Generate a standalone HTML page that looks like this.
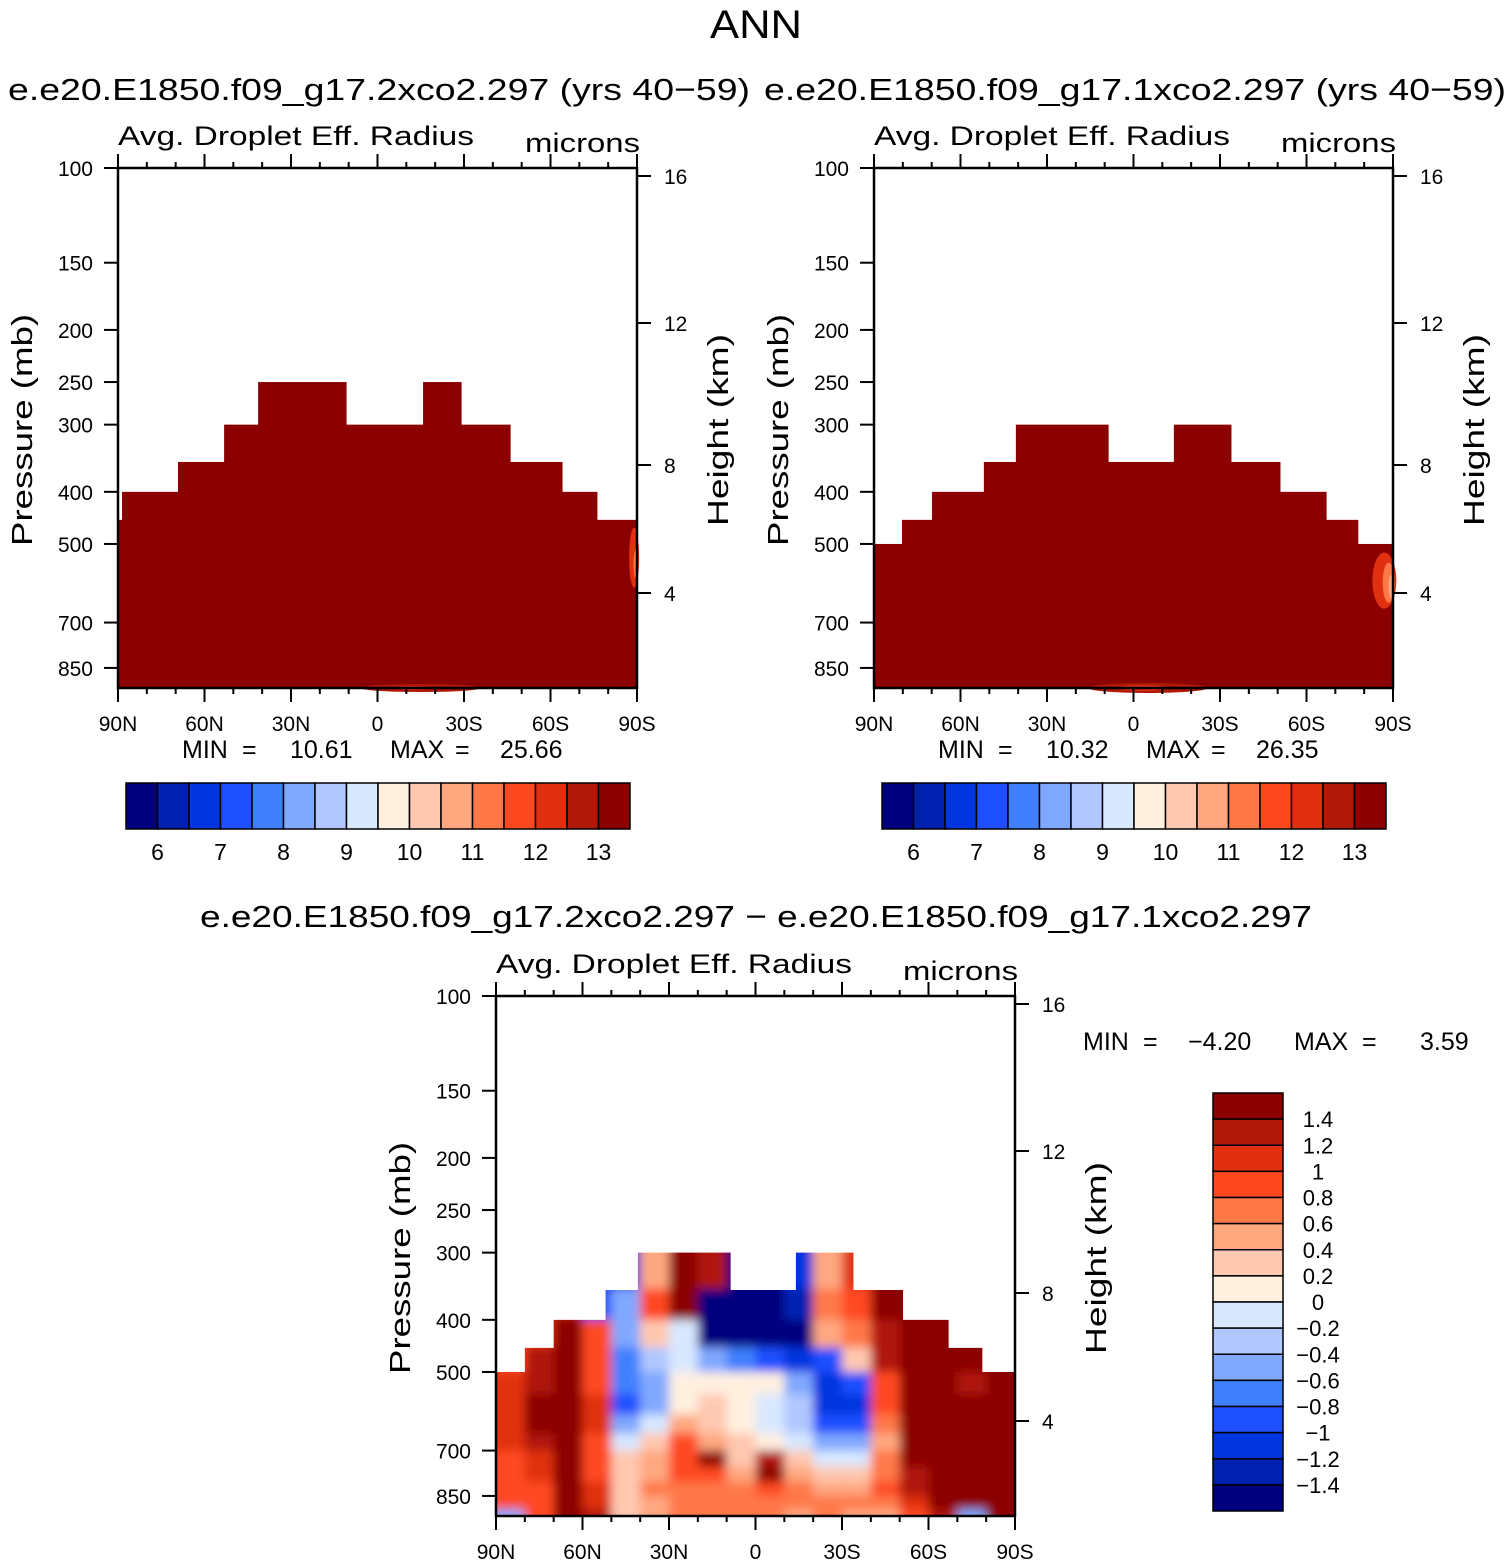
<!DOCTYPE html>
<html><head><meta charset="utf-8">
<style>
html,body{margin:0;padding:0;background:#fff;}
svg{display:block;font-family:"Liberation Sans",sans-serif;}
text{fill:#000;}
</style></head>
<body>
<svg id="fig" width="1510" height="1565" viewBox="0 0 1510 1565">
<text x="756" y="38" font-size="40" text-anchor="middle" textLength="92" lengthAdjust="spacingAndGlyphs">ANN</text>
</svg>
<script>
// ---- data ----
var pressureTicks = [100,150,200,250,300,400,500,700,850];
var heightTicks = [16,12,8,4];
var heightTickY = [176,323,465,593]; // relative to panel 1 layout
var latTicks = [90,60,30,0,-30,-60,-90];
var latTickLabels = ["90N","60N","30N","0","30S","60S","90S"];
var cbarLabels = ["6","7","8","9","10","11","12","13"];
var diffLevels = [1.4,1.2,1,0.8,0.6,0.4,0.2,0,-0.2,-0.4,-0.6,-0.8,-1,-1.2,-1.4];
var diffLabels = ["1.4","1.2","1","0.8","0.6","0.4","0.2","0","\u22120.2","\u22120.4","\u22120.6","\u22120.8","\u22121","\u22121.2","\u22121.4"];
var palette = ["#00007f","#0020b0","#0035e0","#1e50ff","#4080ff","#80a8ff","#b0c8ff","#d8e8ff","#fff0e0","#ffc8b0","#ffa880","#ff7848","#ff4820","#e03010","#b01808","#8b0000"];
// panel 1 profile
var p1LatEdges = [90,88.6,69.2,53.2,41.4,10.9,-15.8,-29,-46,-64,-76.1,-90];
var p1TopP = [451,400,352,300,250,300,250,300,352,400,451];
// panel 2 profile
var p2LatEdges = [90,80.3,69.9,51.9,40.8,8.8,-14,-33.8,-50.8,-66.8,-77.8,-90];
var p2TopP = [500,451,400,352,300,352,300,352,400,451,500];
// panel 3 profile
var p3LatEdges = [90,80,70,52,40.8,8.8,-14,-33.8,-51,-66.8,-78.5,-90];
var p3TopP = [500,451,400,352,300,352,300,352,400,451,500];
// diff grid
var diffLatEdges = [90,80,70,60,50,40,30,20,10,0,-10,-20,-30,-40,-50,-60,-70,-80,-90];
var diffPEdges = [300,350,400,450,500,550,600,650,700,750,800,850,900,930];
var diffValues = [
[1.0,1.0,1.2,-0.9,-1.2,0.4,1.6,1.2,-2,-2,-1.2,0.5,1.0,1.6,1.6,1.6,1.6,1.6],
[1.0,1.0,1.2,-0.9,-0.6,0.8,1.6,-1.6,-2,-2,-1.4,0.6,0.8,1.6,1.6,1.6,-1.0,1.6],
[0.9,1.1,1.4,0.9,-0.6,0.2,-0.2,-1.6,-2,-2,-1.6,0.4,0.6,1.3,1.6,1.6,1.6,1.6],
[0.9,1.2,1.5,0.8,-0.7,-0.3,-0.2,-0.6,-0.8,-1.0,-1.2,-1.0,0.2,1.2,1.6,1.6,1.6,1.6],
[1.0,1.3,1.5,0.9,-0.8,-0.6,0.1,0.1,0.1,0.0,-0.6,-1.2,-1.0,0.9,1.6,1.6,1.2,1.6],
[1.0,1.4,1.5,1.0,-0.9,-0.5,0.1,0.2,0.1,-0.1,-0.4,-1.2,-1.2,0.8,1.6,1.6,1.6,1.6],
[1.1,1.4,1.5,1.0,-0.6,-0.2,0.4,0.2,0.1,-0.1,-0.3,-1.0,-1.0,0.7,1.6,1.6,1.6,1.6],
[1.0,1.2,1.5,0.9,-0.2,0.2,0.8,0.4,0.2,0.0,-0.2,-0.6,-0.6,0.5,1.6,1.6,1.6,1.6],
[0.9,1.0,1.4,0.9,0.2,0.4,0.9,1.6,0.3,1.2,0.2,-0.2,-0.1,0.6,1.4,1.6,1.6,1.6],
[0.9,1.0,1.6,0.9,0.3,0.5,0.8,0.9,0.4,1.4,0.4,0.2,0.3,0.7,1.2,1.6,1.6,1.6],
[0.8,0.9,1.6,1.0,0.3,0.6,0.6,0.6,0.6,0.8,0.6,0.4,0.5,0.8,1.2,1.6,1.6,1.6],
[0.8,0.9,1.6,1.1,0.2,0.5,0.6,0.6,0.7,0.6,0.7,0.6,0.6,0.6,1.0,1.4,1.6,1.6],
[-0.6,0.8,1.6,1.2,0.2,0.4,0.6,0.6,0.6,0.6,0.5,0.6,0.5,0.5,0.9,1.2,-0.6,1.6]
];

// ---- drawing ----
var NS="http://www.w3.org/2000/svg";
var svg=document.getElementById('fig');
function mk(tag,attrs,parent){var e=document.createElementNS(NS,tag);for(var k in attrs)e.setAttribute(k,attrs[k]);(parent||svg).appendChild(e);return e;}
function txt(x,y,s,size,anchor,parent){var t=mk('text',{x:x,y:y,'font-size':size,'text-anchor':anchor||'start'},parent);t.textContent=s;return t;}
function fit(t,len){t.setAttribute('textLength',len);t.setAttribute('lengthAdjust','spacingAndGlyphs');}

var W=519,H=520,K=233.6;
function makeScales(x0,y0){
  return {x:function(lat){return x0+(90-lat)/180*W;},
          y:function(p){return Math.min(y0+H,y0+K*Math.log(p/100));}};
}
function colorFor(v){var i=0;for(var j=0;j<diffLevels.length;j++){if(v>diffLevels[j]-1e-9)i++;}return palette[i];}

function drawAxes(g,x0,y0,sc,name){
  var box=mk('rect',{x:x0,y:y0,width:W,height:H,fill:'none',stroke:'#000','stroke-width':2.5},g);
  
  
  for(var lat=90;lat>=-90;lat-=10){
    var x=sc.x(lat);var major=(lat%30===0);var L=major?14:6;
    mk('line',{x1:x,y1:y0,x2:x,y2:y0-L,stroke:'#000','stroke-width':2},g);
    mk('line',{x1:x,y1:y0+H,x2:x,y2:y0+H+L,stroke:'#000','stroke-width':2},g);
  }
  for(var i=0;i<latTicks.length;i++){
    var t=txt(sc.x(latTicks[i]),y0+H+43,latTickLabels[i],21,'middle',g);
    
    
  }
  for(var i=0;i<pressureTicks.length;i++){
    var y=sc.y(pressureTicks[i]);
    mk('line',{x1:x0,y1:y,x2:x0-14,y2:y,stroke:'#000','stroke-width':2},g);
    var t=txt(x0-25,y+8,String(pressureTicks[i]),21,'end',g);
    
    
  }
  for(var i=0;i<heightTicks.length;i++){
    var y=y0+(heightTickY[i]-168);
    mk('line',{x1:x0+W,y1:y,x2:x0+W+14,y2:y,stroke:'#000','stroke-width':2},g);
    var t=txt(x0+W+27,y+8,String(heightTicks[i]),21,'start',g);
    
    
  }
  var a=txt(x0,y0-23,"Avg. Droplet Eff. Radius",27,'start',g);
  fit(a,356);
  
  
  var m=txt(x0+407,y0-16,"microns",27,'start',g);
  fit(m,115);
  
  
  var yl=txt(0,0,"Pressure (mb)",29,'middle',g);
  yl.setAttribute('transform','translate('+(x0-86)+','+(y0+262)+') rotate(-90)');
  fit(yl,232);
  
  
  var hl=txt(0,0,"Height (km)",29,'middle',g);
  hl.setAttribute('transform','translate('+(x0+W+91)+','+(y0+262)+') rotate(-90)');
  fit(hl,192);
  
  
}

function drawProfileFill(g,sc,edges,tops,color){
  for(var i=0;i<tops.length;i++){
    var xa=sc.x(edges[i]),xb=sc.x(edges[i+1]);var ya=sc.y(tops[i]),yb=sc.y(930);
    var r=mk('rect',{x:xa,y:ya,width:xb-xa+0.5,height:yb-ya,fill:color},g);
    
    
  }
}

function horizCbar(g,x,y,name){
  var w=504/16;
  for(var i=0;i<16;i++){
    var r=mk('rect',{x:x+i*w,y:y,width:w,height:46,fill:palette[i],stroke:'#000','stroke-width':1.5},g);
    
    
  }
  for(var i=0;i<cbarLabels.length;i++){
    var t=txt(x+(2*i+1)*w,y+77,cbarLabels[i],23,'middle',g);
    
    
  }
}

function minmax(g,xs,y,vals){
  var labels=["MIN","=",vals[0],"MAX","=",vals[1]];
  for(var i=0;i<6;i++){
    var t=txt(xs[i],y,labels[i],25,'start',g);
    
    
  }
}

function topPanel(x0,edges,tops,subtitle,sx,mn,mx,blobs,name){
  var g=mk('g',{});
  
  
  var sc=makeScales(x0,168);
  var st=txt(sx,100,subtitle,31,'start',g);
  fit(st,742);
  
  
  drawProfileFill(g,sc,edges,tops,'#8b0000');
  for(var i=0;i<blobs.length;i++){
    var b=blobs[i];
    var e=mk('ellipse',{cx:sc.x(b[0]),cy:sc.y(b[1]),rx:b[2],ry:b[3],fill:b[4]},g);
    
    
  }
  drawAxes(g,x0,168,sc,name);
  minmax(g,[x0+64,x0+124,x0+172,x0+272,x0+337,x0+382],758,[mn,mx]);
  horizCbar(g,x0+8,783,name+'-colorbar');
}
var blobs1=[[-89,530,5,30,'#e03010'],[-89.5,545,2,14,'#ff7848'],[-15,930,60,4,'#b01808'],[-12,930,20,2,'#e03010']];
var blobs2=[[-87,585,12,28,'#e03010'],[-88.5,590,6,20,'#ff7848'],[-89.5,600,3,12,'#ffa880'],[-5,930,60,5,'#b01808'],[-3,930,25,3,'#e03010']];
topPanel(118,p1LatEdges,p1TopP,"e.e20.E1850.f09_g17.2xco2.297 (yrs 40\u221259)",8,"10.61","25.66",blobs1,'panel-2xco2');
topPanel(874,p2LatEdges,p2TopP,"e.e20.E1850.f09_g17.1xco2.297 (yrs 40\u221259)",764,"10.32","26.35",blobs2,'panel-1xco2');

// difference panel
(function(){
  var x0=496,y0=996;
  var g=mk('g',{});
  
  
  var sc=makeScales(x0,y0);
  var st=txt(200,927,"e.e20.E1850.f09_g17.2xco2.297 \u2212 e.e20.E1850.f09_g17.1xco2.297",31,'start',g);
  fit(st,1112);
  
  
  var defs=mk('defs',{},g);
  var cp=mk('clipPath',{id:'diffclip'},defs);
  drawProfileFill(cp,sc,p3LatEdges,p3TopP,'#000');
  var filt=mk('filter',{id:'soft',filterUnits:'userSpaceOnUse',x:460,y:1200,width:600,height:360},defs);
  mk('feGaussianBlur',{stdDeviation:'5'},filt);
  var cg=mk('g',{'clip-path':'url(#diffclip)'},g);
  var fg=mk('g',{filter:'url(#soft)'},cg);
  for(var r=0;r<diffValues.length;r++){
    for(var c=0;c<diffValues[r].length;c++){
      var xa=sc.x(diffLatEdges[c]),xb=sc.x(diffLatEdges[c+1]);
      var ya=sc.y(diffPEdges[r]),yb=sc.y(diffPEdges[r+1]);
      if(r===0)ya-=20;
      if(c===0)xa-=15;
      if(c===17)xb+=15;
      if(r===diffValues.length-1)yb+=15;
      var cell=mk('rect',{x:xa,y:ya,width:xb-xa+0.6,height:yb-ya+0.6,fill:colorFor(diffValues[r][c])},fg);
      
      
    }
  }
  drawAxes(g,x0,y0,sc,'panel-difference');
  minmax(g,[1083,1143,1188,1294,1362,1420],1050,["\u22124.20","3.59"]);
  var h=418/16;
  for(var i=0;i<16;i++){
    var s=mk('rect',{x:1213,y:1093+i*h,width:70,height:h,fill:palette[15-i],stroke:'#000','stroke-width':1.5},g);
    
    
  }
  for(var i=0;i<diffLabels.length;i++){
    var t=txt(1318,1093+(i+1)*h+8,diffLabels[i],22,'middle',g);
    
    
  }
})();
</script>
</body></html>
